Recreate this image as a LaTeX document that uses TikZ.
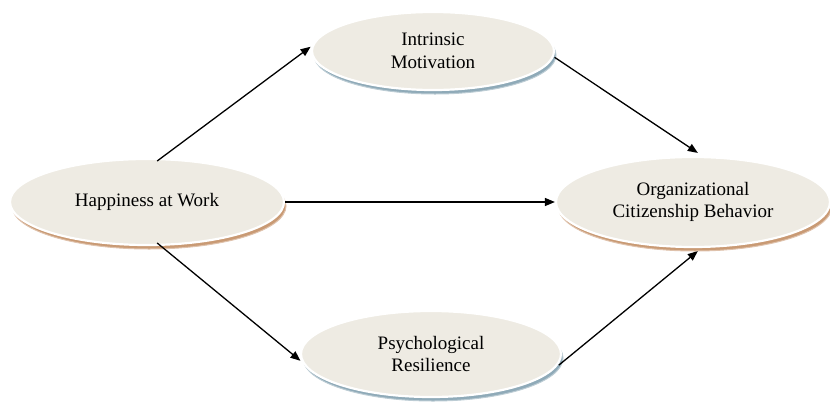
\documentclass[tikz,border=0pt]{standalone}
\usepackage{fontspec}
\setmainfont{Liberation Serif}
\usetikzlibrary{shapes.geometric,arrows.meta}
\definecolor{bubblefill}{HTML}{EEEBE3}
\definecolor{blueshade}{HTML}{8FAAB8}
\definecolor{warmshade}{HTML}{C99A74}
\tikzset{
  bubble/.style={ellipse, inner sep=0pt, fill=bubblefill, draw=white, line width=2.2pt,
    font=\fontsize{19}{22.5}\selectfont, align=center},
  bluebub/.style={bubble, preaction={fill=blueshade, draw=blueshade!60, line width=1pt, transform canvas={shift={(2pt,-4pt)}}}},
  warmbub/.style={bubble, preaction={fill=warmshade, draw=warmshade!60, line width=1pt, transform canvas={shift={(2pt,-4pt)}}}},
  link/.style={-{Triangle[length=10pt,width=8pt]}, line width=1.3pt, black}
}
\begin{document}
\begin{tikzpicture}[x=1pt,y=-1pt]
  \useasboundingbox (0,0) rectangle (830,402);
  \node[bluebub, minimum width=242pt, minimum height=78pt] (im) at (433,51) {Intrinsic\\Motivation};
  \node[warmbub, minimum width=274pt, minimum height=86pt] (hw) at (147,202) {Happiness at Work};
  \node[warmbub, minimum width=274pt, minimum height=90pt] (ocb) at (693,202) {Organizational\\Citizenship Behavior};
  \node[bluebub, minimum width=260pt, minimum height=86pt] (pr) at (431,354) {Psychological\\Resilience};

  \draw[link] ([shift={(0,-3pt)}]hw.77) -- ([shift={(-1pt,0)}]im.178);
  \draw[link] ([shift={(1pt,0)}]im.-3) -- ([shift={(0,3pt)}]ocb.84);
  \draw[link] (hw.east) -- (ocb.west);
  \draw[link] ([shift={(0,3pt)}]hw.-77) -- ([shift={(-1pt,0)}]pr.183);
  \draw[link] ([shift={(1pt,0)}]pr.-5) -- ([shift={(0,-3pt)}]ocb.-84);
\end{tikzpicture}
\end{document}
